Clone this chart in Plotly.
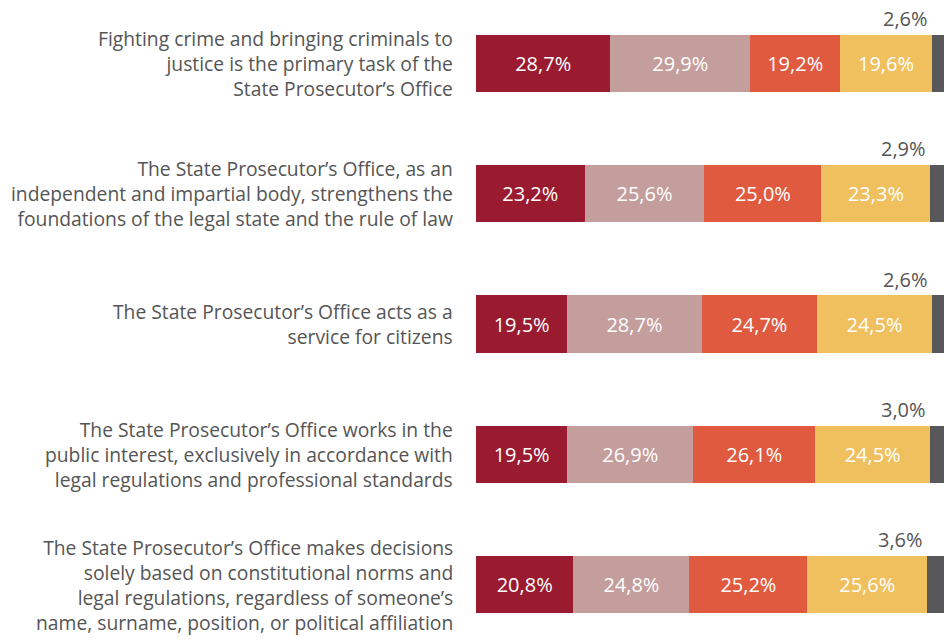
import plotly.graph_objects as go

categories = [
    "Fighting crime and bringing criminals to<br>justice is the primary task of the<br>State Prosecutor’s Office",
    "The State Prosecutor’s Office, as an<br>independent and impartial body, strengthens the<br>foundations of the legal state and the rule of law",
    "The State Prosecutor’s Office acts as a<br>service for citizens",
    "The State Prosecutor’s Office works in the<br>public interest, exclusively in accordance with<br>legal regulations and professional standards",
    "The State Prosecutor’s Office makes decisions<br>solely based on constitutional norms and<br>legal regulations, regardless of someone’s<br>name, surname, position, or political affiliation",
]
series_names = ["s1", "s2", "s3", "s4", "s5"]
s1 = [28.7, 23.2, 19.5, 19.5, 20.8]
s2 = [29.9, 25.6, 28.7, 26.9, 24.8]
s3 = [19.2, 25.0, 24.7, 26.1, 25.2]
s4 = [19.6, 23.3, 24.5, 24.5, 25.6]
s5 = [2.6, 2.9, 2.6, 3.0, 3.6]
colors = ["#9a1b30", "#c49e9c", "#e05a3f", "#f0c05f", "#58585a"]

FONT = "Open Sans"
ypos = list(range(len(categories)))
fig = go.Figure()
for name, vals, col in zip(series_names, [s1, s2, s3, s4, s5], colors):
    last = name == "s5"
    fig.add_trace(go.Bar(
        y=ypos, x=vals, orientation="h", name=name,
        marker=dict(color=col, line=dict(width=0)),
        texttemplate="" if last else "%{x:.1f}%",
        textposition="inside", insidetextanchor="middle",
        textfont=dict(color="white", size=20, family=FONT),
        hoverinfo="skip", showlegend=False,
    ))

annotations = []
for i, (cat, v) in enumerate(zip(categories, s5)):
    annotations.append(dict(
        x=0, y=i, xref="paper", yref="y", text=cat, showarrow=False,
        xanchor="right", yanchor="middle", align="right", xshift=-21,
        font=dict(size=19.3, color="#555555", family=FONT),
    ))
    annotations.append(dict(
        x=100 - v, y=i, xref="x", yref="y", text=f"{v:.1f}".replace(".", ",") + "%",
        showarrow=False, xanchor="right", yanchor="middle", yshift=45, xshift=-2,
        font=dict(size=20, color="#555555", family=FONT),
    ))

fig.update_layout(
    barmode="stack", bargap=0.56,
    width=944, height=639,
    margin=dict(l=476, r=0, t=0, b=0),
    paper_bgcolor="white", plot_bgcolor="white",
    separators=", ",
    uniformtext=dict(mode="show", minsize=10),
    xaxis=dict(range=[0, 100], visible=False, fixedrange=True),
    yaxis=dict(range=[4.418, -0.4875], visible=False, fixedrange=True),
    annotations=annotations,
)
fig.write_html("out.html", config={"displayModeBar": False},
               post_script="document.body.style.margin='0';document.body.style.overflow='hidden';")
